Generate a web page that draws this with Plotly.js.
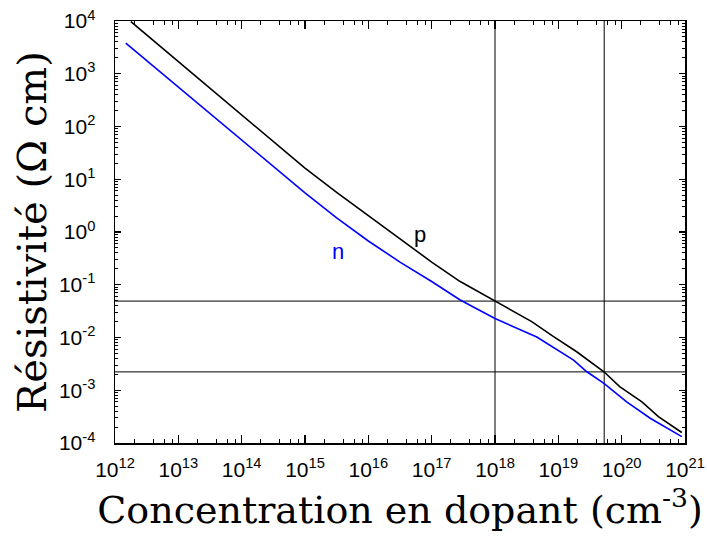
<!DOCTYPE html>
<html>
<head>
<meta charset="utf-8">
<script src="https://cdn.plot.ly/plotly-3.0.1.min.js"></script>
<style>html,body{margin:0;padding:0;background:#fff;}#chart{width:707px;height:543px;}</style>
</head>
<body>
<div id="chart"></div>
<script>
// Dopant concentration (cm^-3) and resistivity (Ohm cm), p-type silicon
var pConc = [1.78e12, 1e13, 1e14, 3.16e14, 1e15, 3.16e15, 1e16, 3.16e16, 1e17, 2.82e17, 5.75e17, 1.0e18, 1.55e18, 3.8e18, 8.3e18, 1.95e19, 5.25e19, 9.3e19, 2.09e20, 3.8e20, 8.9e20];
var pRho  = [9770, 1700, 166, 52.5, 16.2, 5.62, 2.04, 0.741, 0.269, 0.115, 0.0708, 0.049, 0.0355, 0.020, 0.0105, 0.00537, 0.00224, 0.00117, 0.000603, 0.000316, 0.000158];
// n-type silicon
var nConc = [1.48e12, 1e13, 1e14, 3.16e14, 1e15, 3.16e15, 1e16, 3.16e16, 1e17, 2.82e17, 1.0e18, 4.57e18, 1.74e19, 2.82e19, 5.25e19, 1.2e20, 2.82e20, 8.9e20];
var nRho  = [3800, 562, 56.2, 17.8, 5.50, 1.86, 0.676, 0.269, 0.115, 0.0513, 0.0229, 0.0102, 0.00372, 0.00224, 0.00135, 0.000603, 0.000295, 0.000132];
// reference lines
var refConc = [1e18, 5.3e19];
var refRho  = [0.049, 0.00223];
var xRange = [1e12, 1e21];
var yRange = [1e-4, 1e4];
var xExps = [12, 13, 14, 15, 16, 17, 18, 19, 20, 21];
var yExps = [-4, -3, -2, -1, 0, 1, 2, 3, 4];
var xMinorMult = [2, 4, 6, 8];
var yMinorMult = [2, 3, 4, 5, 6, 7, 8, 9];

function lbl(e){ return '10<sup>' + (e < 0 ? '-' + (-e) : e) + '</sup>'; }
function minors(exps, mults){
  var out = [];
  for (var i = 0; i < exps.length - 1; i++) mults.forEach(function(m){ out.push(m * Math.pow(10, exps[i])); });
  return out;
}

var traces = [];
refRho.forEach(function(v){
  traces.push({x: xRange, y: [v, v], mode: 'lines', line: {color: '#000', width: 1}, hoverinfo: 'skip', showlegend: false});
});
refConc.forEach(function(v){
  traces.push({x: [v, v], y: yRange, mode: 'lines', line: {color: '#000', width: 1}, hoverinfo: 'skip', showlegend: false});
});
traces.push({x: nConc, y: nRho, mode: 'lines', line: {color: '#0000ff', width: 1.6}, name: 'n', showlegend: false});
traces.push({x: pConc, y: pRho, mode: 'lines', line: {color: '#000000', width: 1.6}, name: 'p', showlegend: false});

var tickFont = {family: 'Liberation Sans, Arial, sans-serif', size: 21, color: '#000'};

var layout = {
  width: 707, height: 543,
  margin: {l: 115, r: 22, t: 21, b: 100},
  paper_bgcolor: '#fff', plot_bgcolor: '#fff',
  showlegend: false,
  xaxis: {
    type: 'log', range: [12, 21], tickmode: 'array',
    tickvals: xExps.map(function(e){ return Math.pow(10, e); }),
    ticktext: xExps.map(lbl),
    ticks: 'inside', ticklen: 8, tickwidth: 1.2, tickcolor: '#000',
    minor: {tickmode: 'array', tickvals: minors(xExps, xMinorMult), ticks: 'inside', ticklen: 4, tickwidth: 1, tickcolor: '#000', showgrid: false},
    showline: true, linecolor: '#000', linewidth: 1.5, mirror: 'ticks',
    showgrid: false, zeroline: false,
    tickfont: tickFont, ticklabelstandoff: 7,
    title: {text: 'Concentration en dopant (cm<sup>-3</sup>)', font: {family: 'DejaVu Serif, serif', size: 38, color: '#000'}, standoff: 16}
  },
  yaxis: {
    type: 'log', range: [-4, 4], tickmode: 'array',
    tickvals: yExps.map(function(e){ return Math.pow(10, e); }),
    ticktext: yExps.map(lbl),
    ticks: 'inside', ticklen: 6, tickwidth: 1.2, tickcolor: '#000',
    minor: {tickmode: 'array', tickvals: minors(yExps, yMinorMult), ticks: 'inside', ticklen: 3, tickwidth: 1, tickcolor: '#000', showgrid: false},
    showline: true, linecolor: '#000', linewidth: 1.5, mirror: 'ticks',
    showgrid: false, zeroline: false,
    tickfont: tickFont, ticklabelstandoff: 14,
    title: {text: 'Résistivité (Ω cm)', font: {family: 'DejaVu Serif, serif', size: 40, color: '#000'}, standoff: 0}
  },
  annotations: [
    {x: Math.log10(6.6e16), y: Math.log10(0.88), xref: 'x', yref: 'y', text: 'p', showarrow: false, font: {family: 'Liberation Sans, Arial, sans-serif', size: 22, color: '#000'}},
    {x: Math.log10(3.3e15), y: Math.log10(0.42), xref: 'x', yref: 'y', text: 'n', showarrow: false, font: {family: 'Liberation Sans, Arial, sans-serif', size: 22, color: '#0000ff'}}
  ]
};

Plotly.newPlot('chart', traces, layout, {displayModeBar: false, staticPlot: true});
</script>
</body>
</html>
